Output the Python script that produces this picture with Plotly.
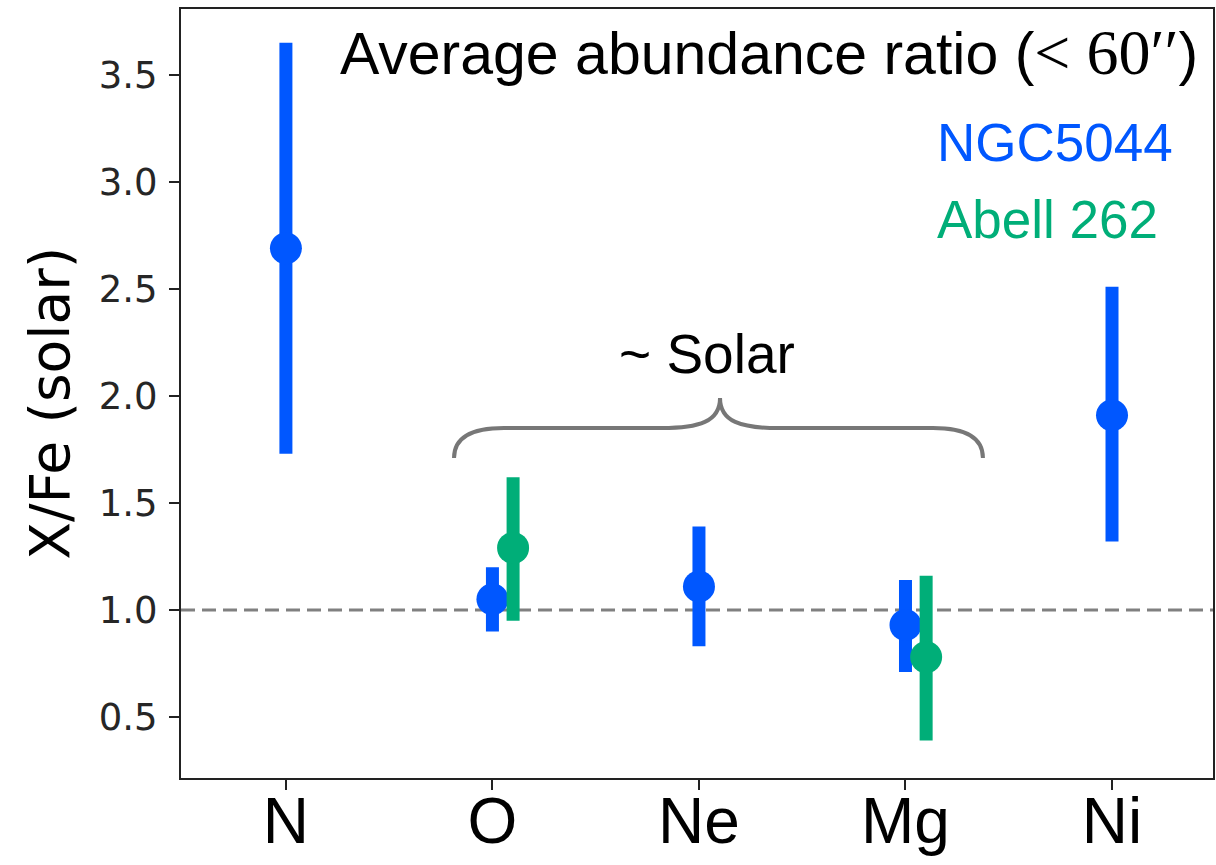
import plotly.graph_objects as go

# ---------------- data ----------------
elements = ["N", "O", "Ne", "Mg", "Ni"]

ngc_elements = ["N", "O", "Ne", "Mg", "Ni"]
ngc_value = [2.69, 1.05, 1.11, 0.93, 1.91]
ngc_low = [1.73, 0.90, 0.83, 0.71, 1.32]
ngc_high = [3.65, 1.20, 1.39, 1.14, 2.51]

abell_elements = ["O", "Mg"]
abell_value = [1.29, 0.78]
abell_low = [0.95, 0.39]
abell_high = [1.62, 1.16]

yticks = [0.5, 1.0, 1.5, 2.0, 2.5, 3.0, 3.5]

BLUE = "#0057FF"
GREEN = "#00AE78"
GRAY = "#777777"

pos = {e: i for i, e in enumerate(elements)}
abell_offset = 0.1

fig = go.Figure()

fig.add_trace(go.Scatter(
    x=[pos[e] for e in ngc_elements], y=ngc_value, mode="markers",
    marker=dict(color=BLUE, size=32, line=dict(width=0)),
    error_y=dict(type="data", symmetric=False,
                 array=[h - v for h, v in zip(ngc_high, ngc_value)],
                 arrayminus=[v - l for v, l in zip(ngc_value, ngc_low)],
                 color=BLUE, thickness=13, width=0),
    showlegend=False, name="NGC5044", cliponaxis=False))

fig.add_trace(go.Scatter(
    x=[pos[e] + abell_offset for e in abell_elements], y=abell_value, mode="markers",
    marker=dict(color=GREEN, size=32, line=dict(width=0)),
    error_y=dict(type="data", symmetric=False,
                 array=[h - v for h, v in zip(abell_high, abell_value)],
                 arrayminus=[v - l for v, l in zip(abell_value, abell_low)],
                 color=GREEN, thickness=13, width=0),
    showlegend=False, name="Abell 262", cliponaxis=False))

# solar reference line
fig.add_shape(type="line", xref="paper", yref="y", x0=0, x1=1, y0=1.0, y1=1.0,
              line=dict(color="#808080", width=3, dash="14px,7px"), layer="below")

# curly brace
brace = ("M 0.814 1.710 Q 0.814 1.850 1.056 1.850 L 1.820 1.850 "
         "C 2.000 1.850 2.102 1.880 2.102 1.991 "
         "C 2.102 1.880 2.204 1.850 2.384 1.850 L 3.133 1.850 "
         "Q 3.375 1.850 3.375 1.710")
fig.add_shape(type="path", xref="x", yref="y", path=brace,
              line=dict(color=GRAY, width=4))

TEXT_FONT = "Liberation Sans"

fig.add_annotation(
    text="Average abundance ratio (<span style='font-family:Liberation Serif;font-size:64px'>&lt; 60′′</span>)",
    xref="paper", yref="paper", x=0.987, y=0.944, xanchor="right", yanchor="middle",
    showarrow=False, font=dict(family=TEXT_FONT, size=59, color="black"))
fig.add_annotation(text="NGC5044", xref="paper", yref="paper", x=0.731, y=0.826,
                   xanchor="left", yanchor="middle", showarrow=False,
                   font=dict(family=TEXT_FONT, size=53, color=BLUE))
fig.add_annotation(text="Abell 262", xref="paper", yref="paper", x=0.731, y=0.726,
                   xanchor="left", yanchor="middle", showarrow=False,
                   font=dict(family=TEXT_FONT, size=53, color=GREEN))
fig.add_annotation(text="~ Solar", xref="paper", yref="paper", x=0.422, y=0.551,
                   xanchor="left", yanchor="middle", showarrow=False,
                   font=dict(family=TEXT_FONT, size=55, color="black"))
fig.add_annotation(text="X/Fe (solar)", xref="paper", yref="paper", x=-0.127, y=0.488,
                   xanchor="center", yanchor="middle", textangle=-90, showarrow=False,
                   font=dict(family="DejaVu Sans", size=55, color="black"))

fig.update_layout(
    width=1216, height=865,
    margin=dict(l=181, r=3, t=9, b=87, autoexpand=False),
    paper_bgcolor="white", plot_bgcolor="white",
    xaxis=dict(range=[-0.508, 4.489], tickmode="array", automargin=False,
               tickvals=[pos[e] for e in elements], ticktext=elements,
               showgrid=False, zeroline=False, showline=True, mirror=True,
               linecolor="#222222", linewidth=2, ticks="outside", ticklen=10,
               tickwidth=2, tickcolor="#222222", ticklabelstandoff=-24,
               tickfont=dict(family=TEXT_FONT, size=64, color="black")),
    yaxis=dict(range=[0.215, 3.808], tickmode="array", tickvals=yticks, automargin=False,
               ticktext=[f"{v:.1f}" for v in yticks],
               showgrid=False, zeroline=False, showline=True, mirror=True,
               linecolor="#222222", linewidth=2, ticks="outside", ticklen=10,
               tickwidth=2, tickcolor="#222222", ticklabelstandoff=4,
               tickfont=dict(family="DejaVu Sans", size=37, color="#262626")),
)

fig.write_html("out.html")
